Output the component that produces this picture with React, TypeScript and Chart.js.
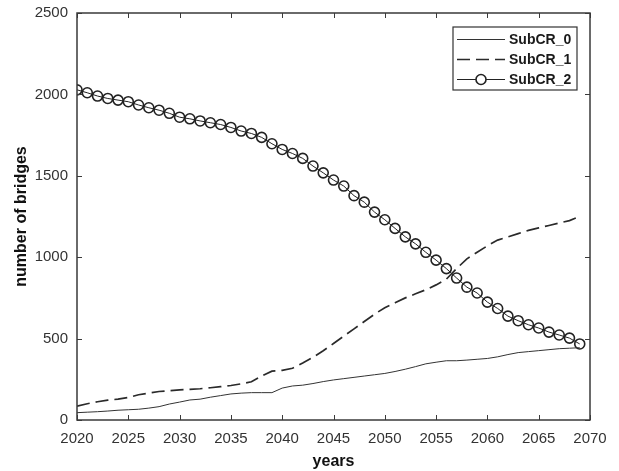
import React, { useEffect, useRef } from "react";
import { Chart, registerables } from "chart.js";
Chart.register(...registerables);

const years = [
  2020, 2021, 2022, 2023, 2024, 2025, 2026, 2027, 2028, 2029,
  2030, 2031, 2032, 2033, 2034, 2035, 2036, 2037, 2038, 2039,
  2040, 2041, 2042, 2043, 2044, 2045, 2046, 2047, 2048, 2049,
  2050, 2051, 2052, 2053, 2054, 2055, 2056, 2057, 2058, 2059,
  2060, 2061, 2062, 2063, 2064, 2065, 2066, 2067, 2068, 2069,
];

const subCR0 = [
  45, 48, 51, 55, 60, 63, 66, 73, 82, 98,
  110, 123, 128, 140, 150, 160, 165, 168, 168, 168,
  196, 209, 214, 224, 236, 246, 254, 262, 270, 278,
  286, 298, 312, 328, 345, 355, 364, 364, 368, 373,
  378, 388, 402, 414, 420, 426, 432, 438, 441, 444,
];

const subCR1 = [
  85, 100, 112, 122, 128, 138, 155, 165, 175, 180,
  185, 188, 192, 198, 205, 212, 222, 235, 270, 300,
  305, 318, 350, 385, 425, 470, 515, 560, 605, 650,
  690, 720, 750, 775, 800, 830, 865, 930, 990, 1030,
  1070, 1105, 1125, 1145, 1165, 1180, 1195, 1210, 1225, 1250,
];

const subCR2 = [
  2028, 2010, 1990, 1975, 1965, 1955, 1935, 1918, 1903, 1884,
  1860, 1850, 1837, 1826, 1815, 1797, 1775, 1760, 1736, 1697,
  1662, 1637, 1607, 1560, 1518, 1474, 1437, 1378, 1338, 1277,
  1230, 1177, 1125, 1082, 1030, 982, 930, 872, 816, 780,
  724, 685, 638, 610, 585, 565, 540, 522, 503, 467,
];

const seriesNames = ["SubCR_0", "SubCR_1", "SubCR_2"];
const xTicks = [2020, 2025, 2030, 2035, 2040, 2045, 2050, 2055, 2060, 2065, 2070];
const yTicks = [0, 500, 1000, 1500, 2000, 2500];

const FONT = "'Liberation Sans', Arial, Helvetica, sans-serif";

const framePlugin = {
  id: "frame",
  afterDatasetsDraw(chart: any) {
    const { ctx, chartArea: a, scales } = chart;
    ctx.save();
    ctx.strokeStyle = "#3a3a3a";
    ctx.lineWidth = 1;
    const L = 5;
    ctx.beginPath();
    for (const v of xTicks) {
      const x = Math.round(scales.x.getPixelForValue(v)) + 0.5;
      ctx.moveTo(x, a.bottom);
      ctx.lineTo(x, a.bottom - L);
      ctx.moveTo(x, a.top);
      ctx.lineTo(x, a.top + L);
    }
    for (const v of yTicks) {
      const y = Math.round(scales.y.getPixelForValue(v)) + 0.5;
      ctx.moveTo(a.left, y);
      ctx.lineTo(a.left + L, y);
      ctx.moveTo(a.right, y);
      ctx.lineTo(a.right - L, y);
    }
    ctx.stroke();
    ctx.lineWidth = 1.5;
    ctx.strokeRect(a.left, a.top, a.right - a.left, a.bottom - a.top);
    ctx.restore();
  },
};

const legendPlugin = {
  id: "boxLegend",
  afterDraw(chart: any) {
    const { ctx, chartArea: a } = chart;
    const w = 124;
    const h = 63;
    const left = a.right - 137;
    const top = a.top + 14;
    ctx.save();
    ctx.fillStyle = "#ffffff";
    ctx.fillRect(left, top, w, h);
    ctx.strokeStyle = "#333";
    ctx.lineWidth = 1.2;
    ctx.strokeRect(left, top, w, h);
    chart.data.datasets.forEach((ds: any, i: number) => {
      const y = top + 12.5 + i * 20;
      const x0 = left + 4;
      const x1 = left + 52;
      ctx.strokeStyle = ds.borderColor;
      ctx.lineWidth = ds.borderWidth;
      ctx.setLineDash(ds.borderDash || []);
      ctx.beginPath();
      ctx.moveTo(x0, y);
      ctx.lineTo(x1, y);
      ctx.stroke();
      ctx.setLineDash([]);
      if (ds.pointRadius > 0) {
        ctx.lineWidth = ds.pointBorderWidth;
        ctx.fillStyle = "#fff";
        ctx.beginPath();
        ctx.arc((x0 + x1) / 2, y, ds.pointRadius, 0, Math.PI * 2);
        ctx.fill();
        ctx.stroke();
      }
      ctx.fillStyle = "#1a1a1a";
      ctx.font = `bold 14px ${FONT}`;
      ctx.textBaseline = "middle";
      ctx.textAlign = "left";
      ctx.fillText(ds.label, left + 56, y + 0.5);
    });
    ctx.restore();
  },
};

export default function App() {
  const ref = useRef<HTMLCanvasElement | null>(null);

  useEffect(() => {
    if (!ref.current) return;
    const pts = (arr: number[]) => years.map((x, i) => ({ x, y: arr[i] }));
    const chart = new Chart(ref.current, {
      type: "line",
      data: {
        datasets: [
          {
            label: seriesNames[0],
            data: pts(subCR0),
            borderColor: "#333333",
            borderWidth: 1,
            pointRadius: 0,
            tension: 0,
          },
          {
            label: seriesNames[1],
            data: pts(subCR1),
            borderColor: "#2a2a2a",
            borderWidth: 1.7,
            borderDash: [13, 6],
            pointRadius: 0,
            tension: 0,
          },
          {
            label: seriesNames[2],
            data: pts(subCR2),
            borderColor: "#222222",
            borderWidth: 1,
            pointRadius: 5,
            pointBorderWidth: 1.6,
            pointBackgroundColor: "rgba(255,255,255,0)",
            pointBorderColor: "#222222",
            tension: 0,
          },
        ] as any,
      },
      options: {
        animation: false,
        responsive: false,
        devicePixelRatio: 1,
        layout: { padding: { left: 0, right: 29, top: 13, bottom: 0 } },
        plugins: { legend: { display: false }, tooltip: { enabled: false } },
        scales: {
          x: {
            type: "linear",
            min: 2020,
            max: 2070,
            grid: { display: false, drawTicks: false },
            border: { display: false },
            afterBuildTicks: (s: any) => {
              s.ticks = xTicks.map((v) => ({ value: v }));
            },
            afterFit: (s: any) => {
              s.height = 51;
              s.paddingLeft = 0;
              s.paddingRight = 0;
            },
            ticks: {
              padding: 10,
              color: "#333",
              font: { family: FONT, size: 15 },
              callback: (v: any) => String(v),
              maxRotation: 0,
              autoSkip: false,
            },
            title: {
              display: true,
              text: "years",
              color: "#111",
              font: { family: FONT, size: 16, weight: "bold" },
              padding: { top: 0, bottom: 0 },
            },
          },
          y: {
            type: "linear",
            min: 0,
            max: 2500,
            grid: { display: false, drawTicks: false },
            border: { display: false },
            afterBuildTicks: (s: any) => {
              s.ticks = yTicks.map((v) => ({ value: v }));
            },
            afterFit: (s: any) => {
              s.width = 77;
              s.paddingTop = 0;
              s.paddingBottom = 0;
            },
            ticks: {
              padding: 9,
              color: "#333",
              font: { family: FONT, size: 15 },
              callback: (v: any) => String(v),
            },
            title: {
              display: true,
              text: "number of bridges",
              color: "#111",
              font: { family: FONT, size: 16, weight: "bold" },
              padding: { top: 12, bottom: 0 },
            },
          },
        },
      },
      plugins: [framePlugin, legendPlugin],
    } as any);
    return () => chart.destroy();
  }, []);

  return (
    <div style={{ position: "absolute", left: 0, top: 0, width: 619, height: 471, background: "#fff" }}>
      <canvas ref={ref} width={619} height={471} style={{ width: 619, height: 471, display: "block" }} />
    </div>
  );
}
